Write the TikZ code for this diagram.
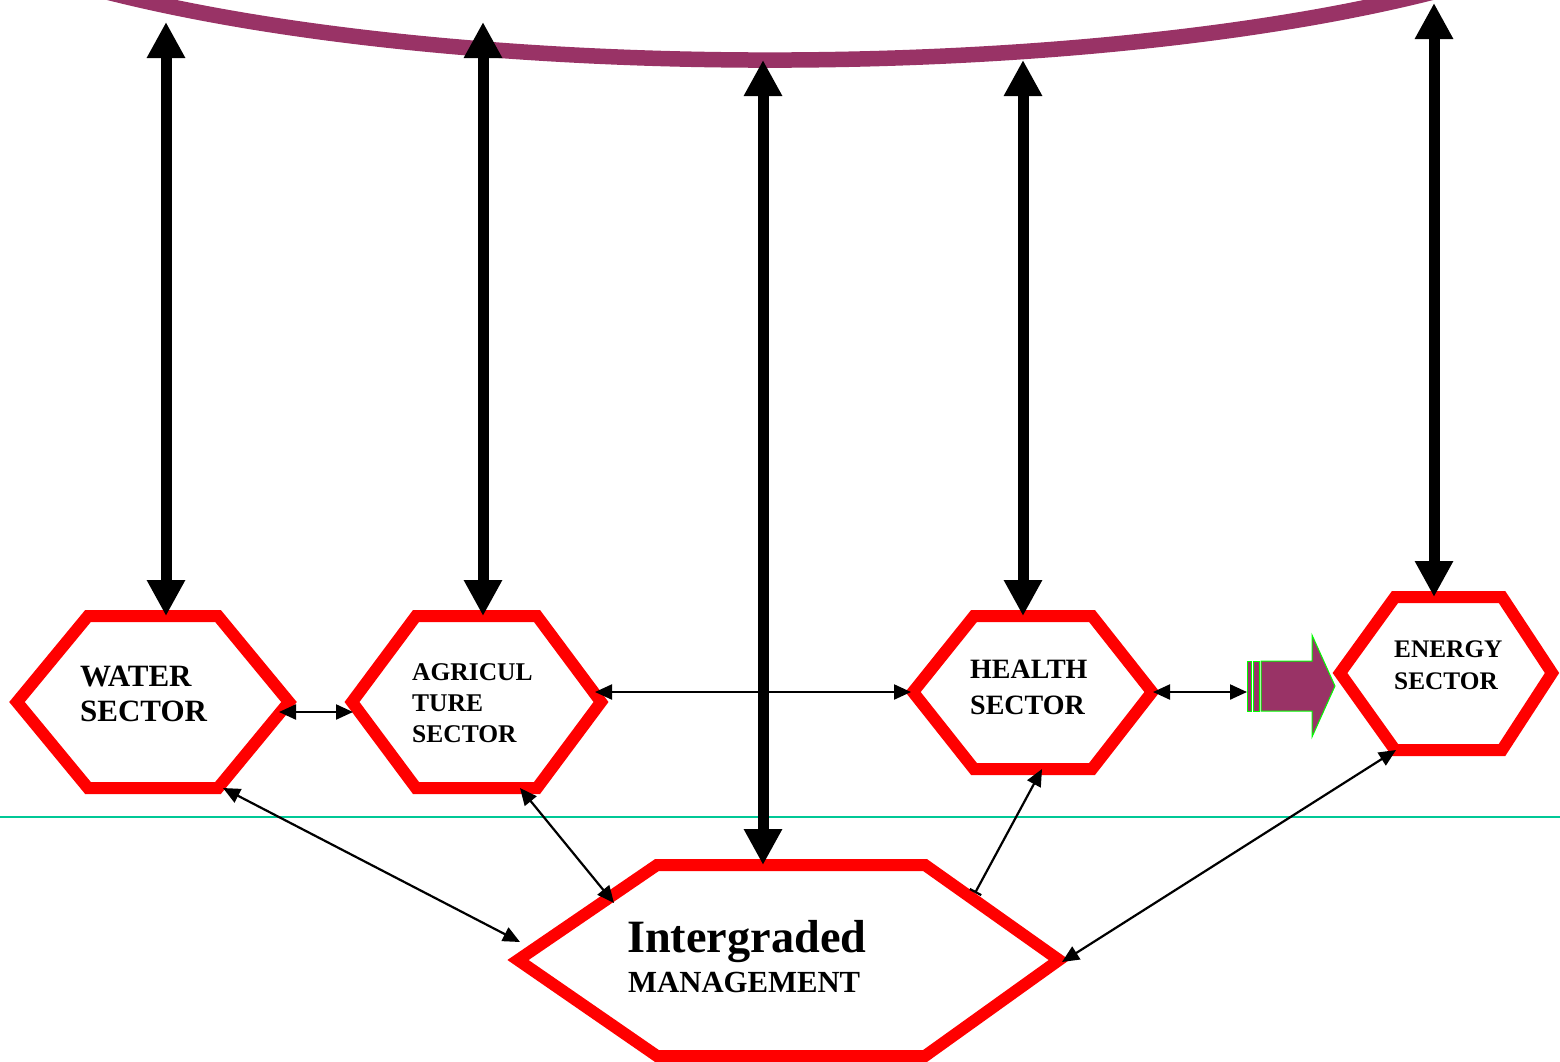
\documentclass[tikz,border=0pt]{standalone}
\usepackage{fontspec}
\setmainfont{Liberation Serif}
\usetikzlibrary{arrows.meta}
\definecolor{hexred}{RGB}{255,0,0}
\definecolor{arcpurple}{RGB}{153,51,102}
\definecolor{tealline}{RGB}{0,200,150}
\definecolor{lgreen}{RGB}{0,255,0}
\begin{document}
\begin{tikzpicture}[x=1pt,y=-1pt,
  hex/.style={draw=hexred, line width=12pt, fill=white, line join=miter},
  bigarrow/.style={line width=11pt, {Triangle[length=36pt,width=36pt]}-{Triangle[length=36pt,width=36pt]}},
  thinarrow/.style={line width=2.2pt, {Triangle[length=17pt,width=15pt]}-{Triangle[length=17pt,width=15pt]}},
  lbl/.style={inner sep=0pt, anchor=base west, align=left, text=black}
]
\useasboundingbox (0,0) rectangle (1560,1061);
% teal line
\coordinate (tl) at (0,817);
\coordinate (tr) at (1560,817);
\draw[tealline, line width=1.6pt] (tl) -- (tr);
% purple arc
\begin{scope}
\clip (0,0) rectangle (1560,1061);
\draw[arcpurple, line width=15.5pt] (770,-150) ++(20:900 and 210)
  arc[start angle=20, end angle=160, x radius=900, y radius=210];
\end{scope}
% hexagons
\draw[hex] (17,702) -- (88,616) -- (218,616) -- (289,702) -- (218,788) -- (88,788) -- cycle;
\draw[hex] (352,702) -- (416,616) -- (537,616) -- (601,702) -- (537,788) -- (416,788) -- cycle;
\draw[hex] (913,692) -- (974,616) -- (1092,616) -- (1152,692) -- (1092,769) -- (974,769) -- cycle;
\draw[hex] (1340,673) -- (1395,597) -- (1502,597) -- (1552,673) -- (1502,750) -- (1395,750) -- cycle;
\draw[hex] (518,960) -- (657,865) -- (925,865) -- (1059,960) -- (925,1056) -- (657,1056) -- cycle;
% connector end points
\coordinate (a1t) at (166,22);   \coordinate (a1b) at (166,616);
\coordinate (a2t) at (483,22);   \coordinate (a2b) at (483,616);
\coordinate (a3t) at (763,60);   \coordinate (a3b) at (763,865);
\coordinate (a4t) at (1023,60);  \coordinate (a4b) at (1023,616);
\coordinate (a5t) at (1434,3);   \coordinate (a5b) at (1434,597);
\coordinate (wr) at (279,712);   \coordinate (al) at (353,712);
\coordinate (ar) at (595,692);   \coordinate (hl) at (911,692);
\coordinate (hr) at (1153,692);  \coordinate (bl) at (1247,692);
\coordinate (wb) at (223,788);   \coordinate (mw) at (520,942);
\coordinate (ab) at (520,788);   \coordinate (ma) at (614,903);
\coordinate (hb) at (1042,769);  \coordinate (mh) at (975,893);
\coordinate (eb) at (1396,750);  \coordinate (me) at (1062,962);
% thick arrows
\draw[bigarrow] (a1t) -- (a1b);
\draw[bigarrow] (a2t) -- (a2b);
\draw[bigarrow] (a3t) -- (a3b);
\draw[bigarrow] (a4t) -- (a4b);
\draw[bigarrow] (a5t) -- (a5b);
% thin arrows
\draw[thinarrow] (wr) -- (al);
\draw[thinarrow] (ar) -- (hl);
\draw[thinarrow] (hr) -- (bl);
\draw[thinarrow] (wb) -- (mw);
\draw[thinarrow] (ab) -- (ma);
\draw[line width=2.2pt, {Triangle[length=17pt,width=15pt]}-{Bar[width=13pt]}] (hb) -- (mh);
\draw[thinarrow] (eb) -- (me);
% striped block arrow
\draw[draw=lgreen, fill=arcpurple, line width=1pt] (1247,661) rectangle (1251,711);
\draw[draw=lgreen, fill=arcpurple, line width=1pt] (1253,661) rectangle (1259,711);
\draw[draw=lgreen, fill=arcpurple, line width=1pt] (1261,661) -- (1312,661) -- (1312,635) -- (1335,686) -- (1312,737) -- (1312,711) -- (1261,711) -- cycle;
% labels (base anchor = baseline of the last line)
\node[lbl, font=\fontsize{31}{35}\selectfont\bfseries] (water) at (80,721) {WATER\\SECTOR};
\node[lbl, font=\fontsize{25.5}{31}\selectfont\bfseries] (agri) at (412,742) {AGRICUL\\TURE\\SECTOR};
\node[lbl, font=\fontsize{28}{36}\selectfont\bfseries] (health) at (970,714) {HEALTH\\SECTOR};
\node[lbl, font=\fontsize{25.3}{32.5}\selectfont\bfseries] (energy) at (1394,689.5) {ENERGY\\SECTOR};
\node[lbl, font=\fontsize{46.3}{50}\selectfont\bfseries] (mgmt1) at (627,952) {Intergraded};
\node[lbl, font=\fontsize{30.7}{35}\selectfont\bfseries] (mgmt2) at (628,992) {MANAGEMENT};
\end{tikzpicture}
\end{document}
